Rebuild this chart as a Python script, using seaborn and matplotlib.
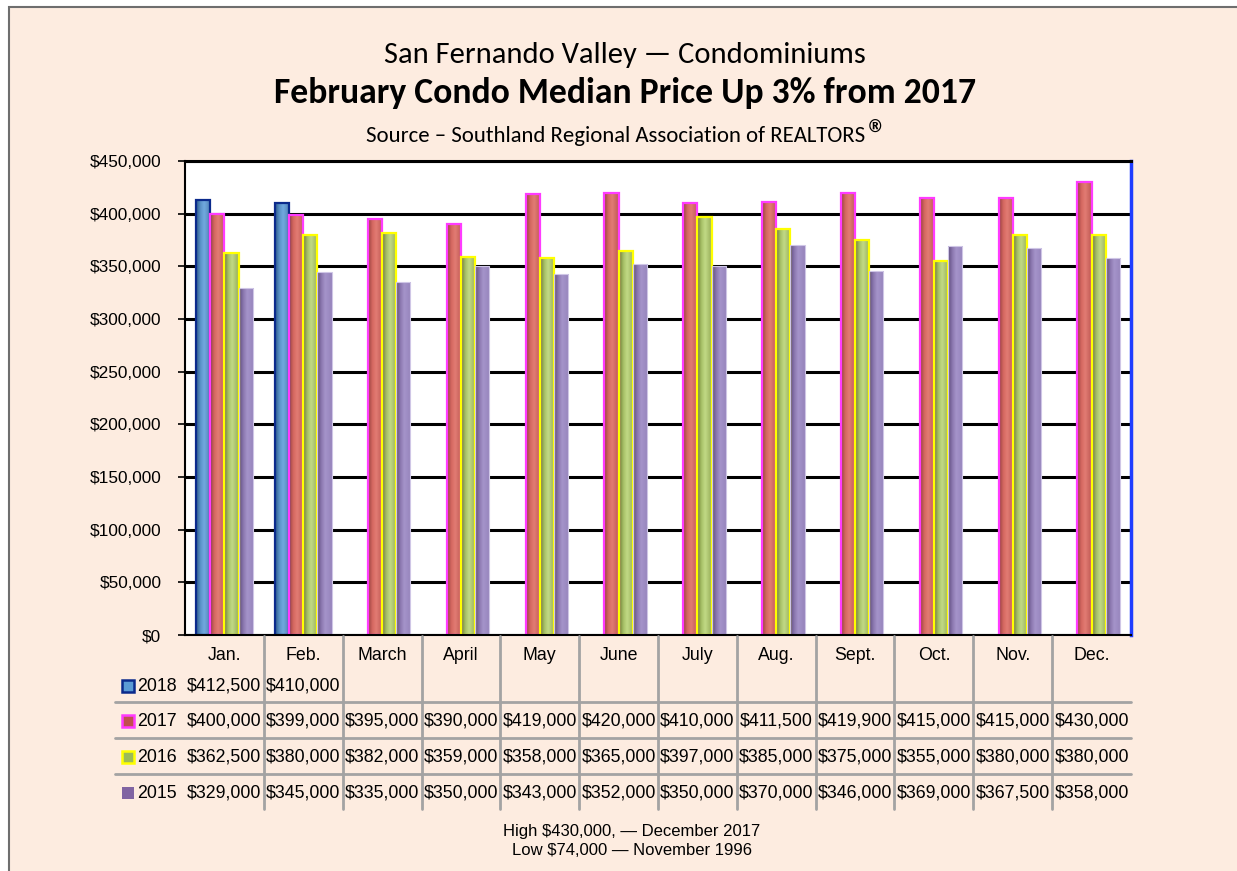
import numpy as np
import pandas as pd
import matplotlib
matplotlib.use("Agg")
import matplotlib.pyplot as plt
from matplotlib import font_manager
from matplotlib.colors import LinearSegmentedColormap
from matplotlib.patches import Rectangle
from matplotlib.lines import Line2D
import matplotlib.transforms as mtransforms
import seaborn as sns

# ---- data -------------------------------------------------------------
months = ["Jan.", "Feb.", "March", "April", "May", "June",
          "July", "Aug.", "Sept.", "Oct.", "Nov.", "Dec."]
years = ["2018", "2017", "2016", "2015"]
price_2018 = [412500, 410000] + [np.nan] * 10
price_2017 = [400000, 399000, 395000, 390000, 419000, 420000,
              410000, 411500, 419900, 415000, 415000, 430000]
price_2016 = [362500, 380000, 382000, 359000, 358000, 365000,
              397000, 385000, 375000, 355000, 380000, 380000]
price_2015 = [329000, 345000, 335000, 350000, 343000, 352000,
              350000, 370000, 346000, 369000, 367500, 358000]
title_top = "San Fernando Valley \u2014 Condominiums"
title_main = "February Condo Median Price Up 3% from 2017"
source_line = "Source \u2013 Southland Regional Association of REALTORS"
footer_high = "High $430,000, \u2014 December 2017"
footer_low = "Low $74,000 \u2014 November 1996"

series = {"2018": price_2018, "2017": price_2017,
          "2016": price_2016, "2015": price_2015}

rows = []
for yr in years:
    for m, v in zip(months, series[yr]):
        if not np.isnan(v):
            rows.append({"month": m, "year": yr, "price": v})
df = pd.DataFrame(rows)

# ---- styling -----------------------------------------------------------
sns.set_style("white")
installed = {f.name for f in font_manager.fontManager.ttflist}
if "Liberation Sans Narrow" in installed:
    narrow, nscale = "Liberation Sans Narrow", 1.0
else:
    narrow, nscale = "Liberation Sans", 0.84
title_font = "Carlito" if "Carlito" in installed else "Lato"
plt.rcParams["font.family"] = [narrow, "DejaVu Sans"]

face = {"2018": "#5B9BD5", "2017": "#C0504D", "2016": "#9BBB59", "2015": "#8064A2"}
edge = {"2018": "#0B2A8C", "2017": "#FF3BFF", "2016": "#FFFF00", "2015": "#CFC6E6"}
shade = {
    "2018": ["#2C5A88", "#5A92C8", "#72AADF", "#4C7DB2"],
    "2017": ["#964340", "#D66861", "#E27C74", "#BE5852"],
    "2016": ["#6A7C33", "#A8C168", "#C2DA86", "#96AC58"],
    "2015": ["#5D4D7D", "#8C78B0", "#A594CA", "#9684BC"],
}
bg = "#FDECE0"

W, H = 1237, 871
fig = plt.figure(figsize=(W / 100, H / 100), dpi=100)
fig.patch.set_facecolor("white")


def fx(x):
    return x / W


def fy(y):
    return 1 - y / H


fig.add_artist(Rectangle((fx(9), -0.02), 1.05, fy(7) + 0.02,
                         transform=fig.transFigure, facecolor=bg,
                         edgecolor="#6E6E6E", linewidth=1.5, zorder=-10))

ax = fig.add_axes([fx(185), fy(635), fx(1131) - fx(185), fy(161) - fy(635)])
ax.set_facecolor("white")

sns.barplot(data=df, x="month", y="price", hue="year", order=months,
            hue_order=years, palette=face, width=0.72, gap=0,
            saturation=1, errorbar=None, legend=False, ax=ax)

# cylinder-like horizontal shading inside each bar
xs = np.linspace(0, 1, 64)[None, :]
for yr, cont in zip(years, ax.containers):
    cmap = LinearSegmentedColormap.from_list(
        "s" + yr, list(zip([0, 0.3, 0.55, 1.0], shade[yr])))
    for bar in cont:
        x0, w, h = bar.get_x(), bar.get_width(), bar.get_height()
        if not np.isfinite(h) or h <= 0:
            continue
        im = ax.imshow(xs, cmap=cmap, extent=[x0, x0 + w, 0, h],
                       aspect="auto", zorder=2, interpolation="bicubic")
        im.set_clip_path(bar)
        bar.set_facecolor("none")
        bar.set_edgecolor(edge[yr])
        bar.set_linewidth(1.6 if yr != "2015" else 0.8)
        bar.set_zorder(2.2)

ax.set_xlim(-0.5, 11.5)
ax.set_ylim(0, 450000)
ax.set_yticks(np.arange(0, 450001, 50000))
ax.yaxis.set_major_formatter(matplotlib.ticker.FuncFormatter(lambda v, p: f"${v:,.0f}"))
ax.set_xticks([])
ax.set_xlabel("")
ax.set_ylabel("")
ax.yaxis.grid(True, color="black", linewidth=2.2)
ax.set_axisbelow(True)
ax.tick_params(axis="y", left=True, length=5, width=1.2, color="black",
               pad=12, labelsize=13 * nscale + (0 if nscale == 1 else 1.5),
               labelcolor="black")
for s in ["top", "left", "bottom"]:
    ax.spines[s].set_color("black")
ax.spines["top"].set_linewidth(2.2)
ax.spines["left"].set_linewidth(1.5)
ax.spines["bottom"].set_linewidth(1.5)
ax.spines["right"].set_color("#1F3DFF")
ax.spines["right"].set_linewidth(2.5)
ax.spines["right"].set_visible(True)

# ---- data table under the plot -----------------------------------------
tsize = 14 * nscale + (0 if nscale == 1 else 1.0)
blend = mtransforms.blended_transform_factory(ax.transData, fig.transFigure)
row_y = {"head": 655, "2018": 686, "2017": 721, "2016": 757, "2015": 793}

for i, m in enumerate(months):
    ax.text(i, fy(row_y["head"]), m, transform=blend, ha="center",
            va="center", fontsize=tsize, color="black", clip_on=False)
    for yr in years:
        v = series[yr][i]
        if np.isnan(v):
            continue
        ax.text(i, fy(row_y[yr]), f"${v:,.0f}", transform=blend,
                ha="center", va="center", fontsize=tsize, color="black",
                clip_on=False)

grid_gray = "#A3A3A3"
for k in range(1, 12):
    fig.add_artist(Line2D([k - 0.5, k - 0.5], [fy(636), fy(809)],
                          transform=blend, color=grid_gray, linewidth=2))
for yl in [702, 738, 774]:
    fig.add_artist(Line2D([fx(115), fx(1131)], [fy(yl), fy(yl)],
                          transform=fig.transFigure, color=grid_gray,
                          linewidth=2))

for yr in years:
    yc = row_y[yr]
    lw = 1.8 if yr != "2015" else 0
    fig.add_artist(Rectangle((fx(122), fy(yc + 6)), fx(134) - fx(122),
                             fy(yc - 6) - fy(yc + 6),
                             transform=fig.transFigure, facecolor=face[yr],
                             edgecolor=edge[yr], linewidth=lw))
    fig.text(fx(137), fy(yc), yr, ha="left", va="center", fontsize=tsize,
             color="black")

# ---- titles and notes ----------------------------------------------------
renderer = fig.canvas.get_renderer()


def fit_text(s, xc, ybase, target_w, **kw):
    t = fig.text(fx(xc), fy(ybase), s, ha="center", va="baseline",
                 fontsize=20, **kw)
    w = t.get_window_extent(renderer).width
    t.set_fontsize(20 * target_w / w)
    return t


fit_text(title_top, 624.5, 63, 481, family=[title_font, "DejaVu Sans"],
         color="black")
fit_text(title_main, 625.5, 103, 701, family=[title_font, "DejaVu Sans"],
         fontweight="bold", color="black")
fit_text(source_line, 616, 142, 500, family=[title_font, "DejaVu Sans"],
         color="black")
fig.text(fx(867), fy(128), "\u00ae", ha="left", va="center", fontsize=12,
         fontweight="bold", family=["DejaVu Sans"], color="black")
fit_text(footer_high, 631.5, 836, 257, family=[narrow, "DejaVu Sans"],
         color="black")
fit_text(footer_low, 632, 855, 240, family=[narrow, "DejaVu Sans"],
         color="black")

fig.savefig("out.png", dpi=100, facecolor=fig.get_facecolor())
